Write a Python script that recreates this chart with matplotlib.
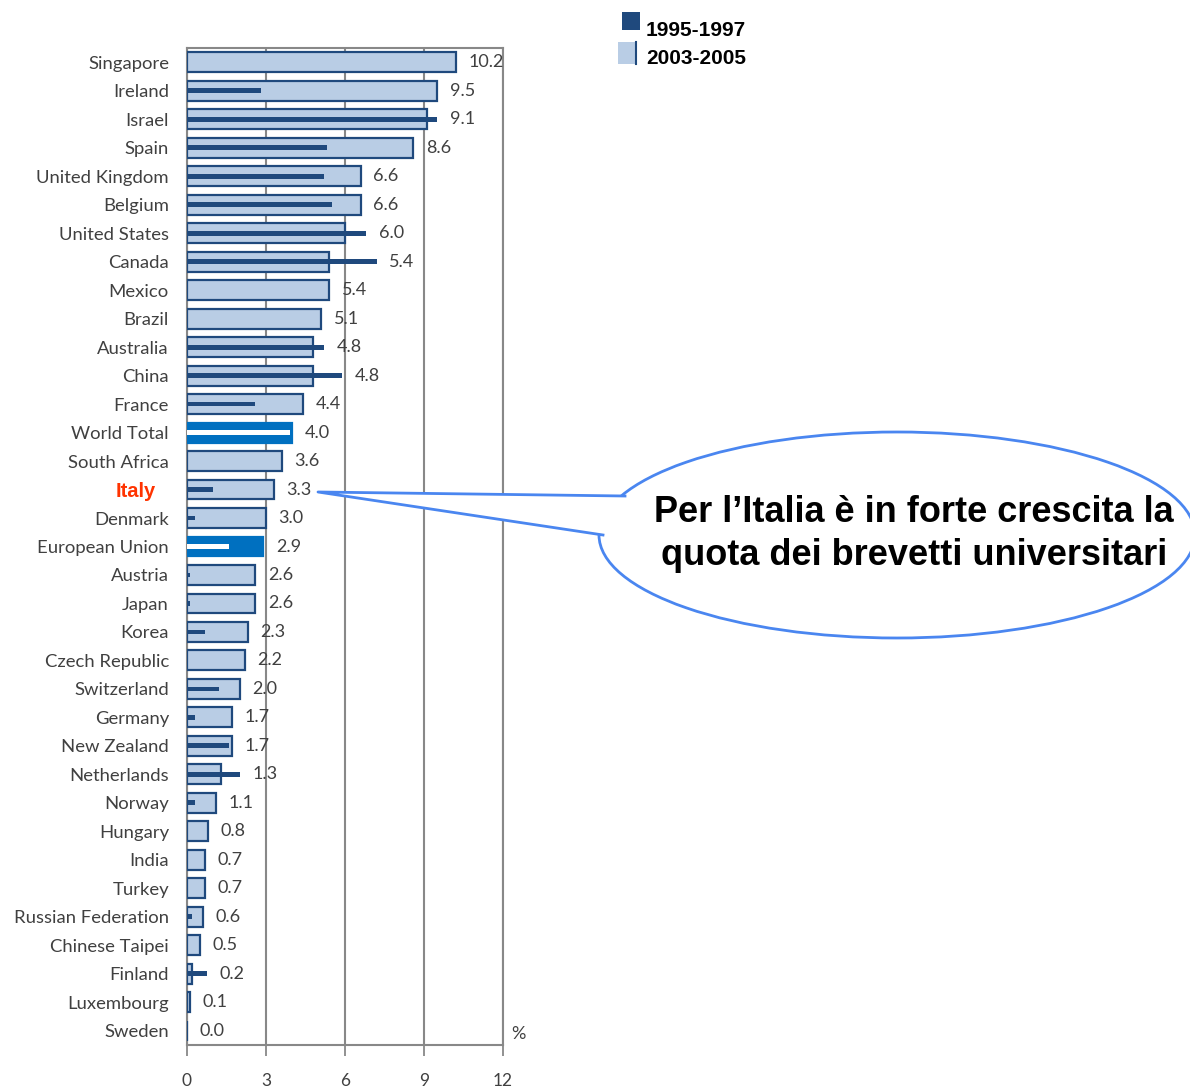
import matplotlib
matplotlib.use("Agg")
import matplotlib.pyplot as plt
from matplotlib.patches import Ellipse, Polygon, Rectangle
from matplotlib.lines import Line2D
import numpy as np

countries = ["Singapore", "Ireland", "Israel", "Spain", "United Kingdom", "Belgium",
             "United States", "Canada", "Mexico", "Brazil", "Australia", "China",
             "France", "World Total", "South Africa", "Italy", "Denmark",
             "European Union", "Austria", "Japan", "Korea", "Czech Republic",
             "Switzerland", "Germany", "New Zealand", "Netherlands", "Norway",
             "Hungary", "India", "Turkey", "Russian Federation", "Chinese Taipei",
             "Finland", "Luxembourg", "Sweden"]
share_2003_2005 = [10.2, 9.5, 9.1, 8.6, 6.6, 6.6, 6.0, 5.4, 5.4, 5.1, 4.8, 4.8,
                   4.4, 4.0, 3.6, 3.3, 3.0, 2.9, 2.6, 2.6, 2.3, 2.2, 2.0, 1.7,
                   1.7, 1.3, 1.1, 0.8, 0.7, 0.7, 0.6, 0.5, 0.2, 0.1, 0.0]
share_1995_1997 = [0.0, 2.8, 9.5, 5.3, 5.2, 5.5, 6.8, 7.2, 0.0, 0.0, 5.2, 5.9,
                   2.6, 3.9, 0.0, 1.0, 0.3, 1.6, 0.1, 0.1, 0.7, 0.0, 1.2, 0.3,
                   1.6, 2.0, 0.3, 0.0, 0.0, 0.0, 0.2, 0.0, 0.75, 0.0, 0.0]
value_labels = ["10.2", "9.5", "9.1", "8.6", "6.6", "6.6", "6.0", "5.4", "5.4", "5.1",
                "4.8", "4.8", "4.4", "4.0", "3.6", "3.3", "3.0", "2.9", "2.6", "2.6",
                "2.3", "2.2", "2.0", "1.7", "1.7", "1.3", "1.1", "0.8", "0.7", "0.7",
                "0.6", "0.5", "0.2", "0.1", "0.0"]
x_ticks = [0, 3, 6, 9, 12]
legend_labels = ["1995-1997", "2003-2005"]
callout_text = "Per l\u2019Italia è in forte crescita la\nquota dei brevetti universitari"

W, H = 1190, 1089
fig = plt.figure(figsize=(W / 100, H / 100), dpi=100)
fig.patch.set_facecolor("white")

def fx(px):
    return px / W

def fy(py):
    return 1 - py / H

ax = fig.add_axes([fx(187), fy(1045), fx(503) - fx(187), fy(48) - fy(1045)])

n = len(countries)
y = np.arange(n)
light = "#b9cde5"
dark = "#1f497d"
aggr = "#0070c0"

for i in range(n):
    is_agg = countries[i] in ("World Total", "European Union")
    ax.barh(y[i], share_2003_2005[i], height=0.7,
            color=aggr if is_agg else light,
            edgecolor=aggr if is_agg else dark, linewidth=1.6, zorder=3)
    if share_1995_1997[i] > 0:
        ax.barh(y[i], share_1995_1997[i], height=0.17,
                color="white" if is_agg else dark, linewidth=0, zorder=4)

for i in range(n):
    xv = max(share_2003_2005[i], share_1995_1997[i])
    ax.annotate(value_labels[i], (xv, y[i]), xytext=(9, 0), textcoords="offset points",
                ha="left", va="center", fontsize=13, color="#404040",
                family="Lato", zorder=5)

ax.set_xlim(0, 12)
ax.set_ylim(n - 0.5, -0.5)
ax.set_xticks(x_ticks)
ax.set_xticklabels([str(t) for t in x_ticks], fontsize=12.5, color="#404040", family="Lato")
ax.tick_params(axis="x", length=8, width=1.3, color="#888888", pad=12)
ax.set_yticks(y)
ax.set_yticklabels(countries, fontsize=13.3, color="#404040", family="Lato")
ax.tick_params(axis="y", length=0, pad=13)
for lab in ax.get_yticklabels():
    if lab.get_text() == "Italy":
        lab.set_color("#ff3300")
        lab.set_fontweight("bold")
        lab.set_fontsize(14.5)
        lab.set_family("Liberation Sans")
        lab.set_x(-0.042)
ax.grid(axis="x", color="#888888", linewidth=1.5, zorder=0)
ax.set_axisbelow(True)
for s in ax.spines.values():
    s.set_color("#888888")
    s.set_linewidth(1.5)
ax.text(12.3, n - 0.9, "%", ha="left", va="center", fontsize=13, color="#404040", family="Lato")

# Legend
fig.patches.append(Rectangle((fx(622), fy(30)), fx(18), fy(12) - fy(30),
                             transform=fig.transFigure, facecolor=dark, edgecolor="none"))
fig.patches.append(Rectangle((fx(618), fy(64)), fx(19), fy(42) - fy(64),
                             transform=fig.transFigure, facecolor=light, edgecolor="none"))
fig.lines.append(Line2D([fx(636), fx(636)], [fy(42), fy(64)], transform=fig.transFigure,
                        color=dark, linewidth=1.5))
fig.text(fx(646), fy(30), legend_labels[0], fontsize=15, fontweight="bold",
         family="Liberation Sans", va="center", ha="left")
fig.text(fx(646), fy(59), legend_labels[1], fontsize=15, fontweight="bold",
         family="Liberation Sans", va="center", ha="left")

# Callout
blue = "#4a86f0"
ell = Ellipse((fx(897), fy(535)), fx(596), fy(0) - fy(206), transform=fig.transFigure,
              facecolor="white", edgecolor=blue, linewidth=2, zorder=10)
fig.patches.append(ell)
tip = (fx(318), fy(492))
p1 = (fx(625), fy(496))
p2 = (fx(603), fy(535))
fig.patches.append(Polygon([tip, p1, (fx(640), fy(515)), p2], closed=True,
                           transform=fig.transFigure, facecolor="white",
                           edgecolor="none", zorder=11))
fig.lines.append(Line2D([p1[0], tip[0], p2[0]], [p1[1], tip[1], p2[1]],
                        transform=fig.transFigure, color=blue, linewidth=2, zorder=12))
fig.text(fx(914), fy(534), callout_text, fontsize=26, fontweight="bold",
         family="Liberation Sans", ha="center", va="center", linespacing=1.32,
         zorder=13)

fig.savefig("out.png", dpi=100)
